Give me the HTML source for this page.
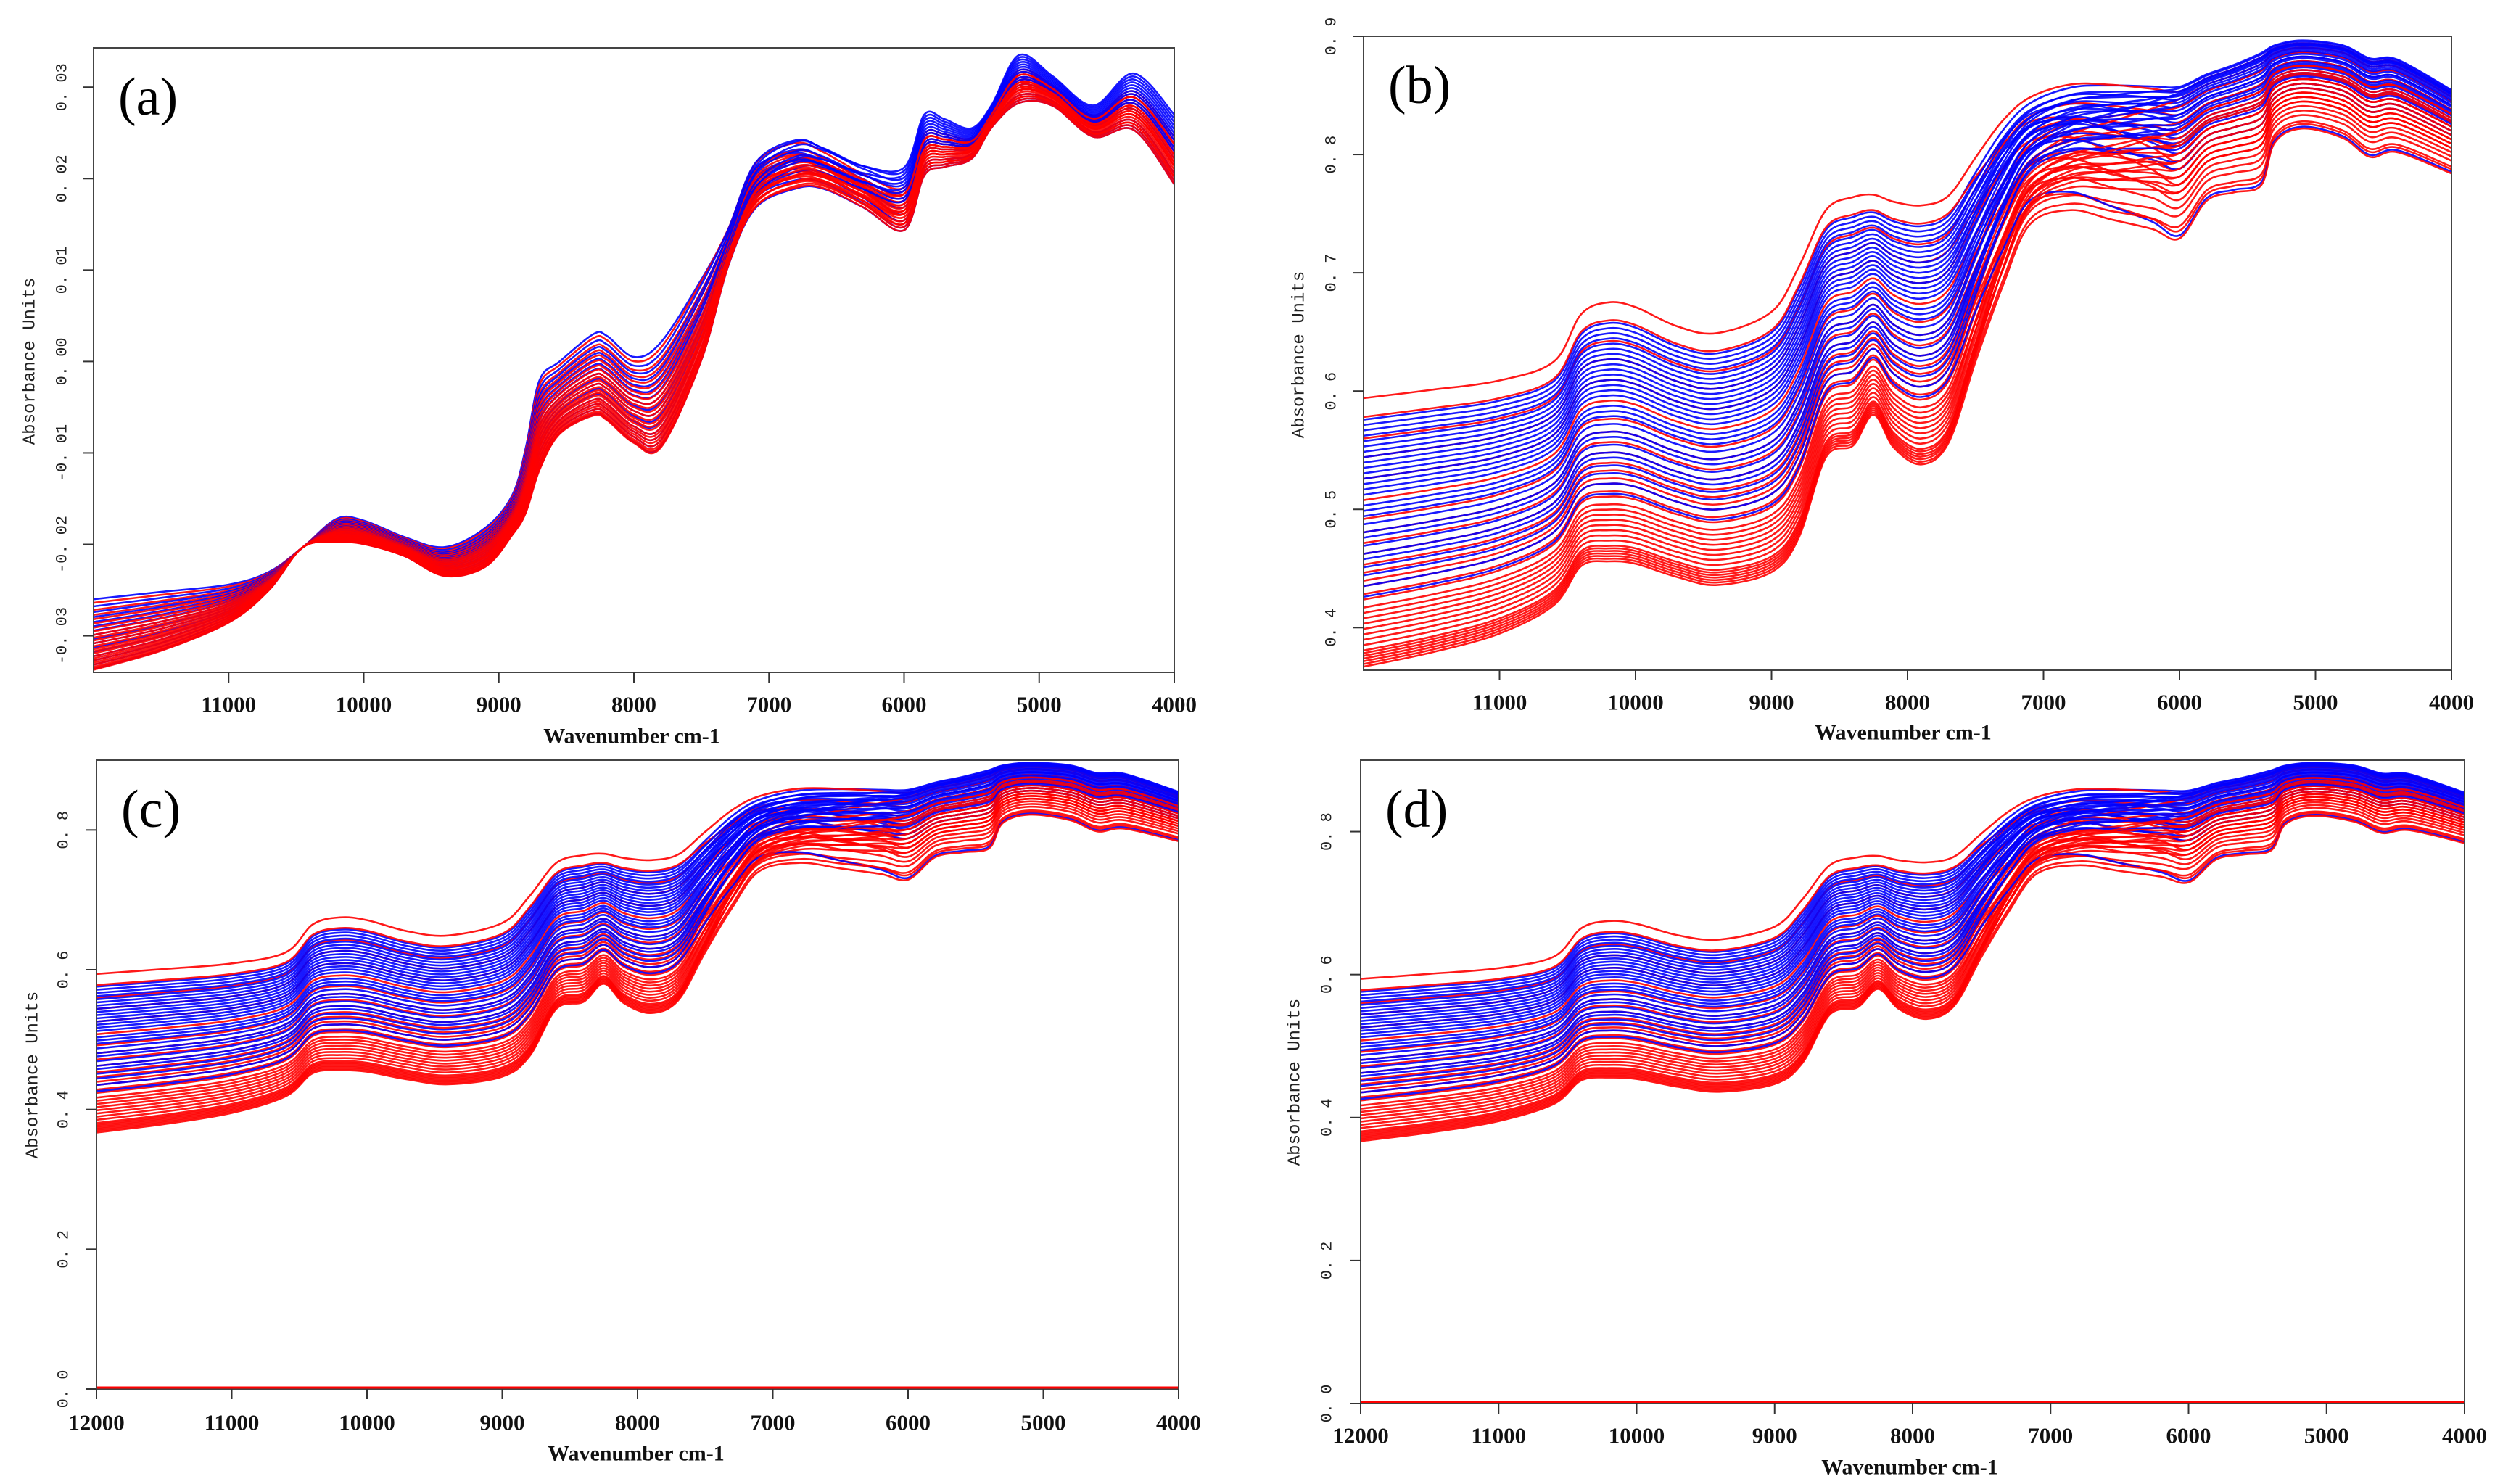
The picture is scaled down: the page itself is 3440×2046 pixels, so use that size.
<!DOCTYPE html>
<html><head><meta charset="utf-8">
<style>
html,body{margin:0;padding:0;background:#fff;}
svg{display:block;}
.yt{font-family:"Liberation Mono",monospace;font-size:22px;fill:#222;}
.ytitle{font-family:"Liberation Mono",monospace;font-size:24px;fill:#222;}
.xt{font-family:"Liberation Serif",serif;font-weight:bold;font-size:31px;fill:#111;}
.xtitle{font-family:"Liberation Serif",serif;font-weight:bold;font-size:30px;fill:#111;}
.plab{font-family:"Liberation Serif",serif;font-size:74px;fill:#000;}
</style></head>
<body>
<svg id="fig" width="3440" height="2046" viewBox="0 0 3440 2046" xmlns="http://www.w3.org/2000/svg"></svg>
<script>
// ---------- data ----------
const waveA = [12000,11500,11000,10700,10450,10200,10000,9700,9400,9100,8900,8800,8700,8550,8300,8200,8000,7800,7500,7300,7100,6800,6600,6300,6000,5850,5700,5500,5350,5150,4900,4600,4300,4000];
const upperA = [-0.026,-0.0252,-0.0244,-0.0230,-0.0203,-0.0172,-0.0174,-0.0192,-0.0203,-0.0182,-0.0146,-0.0094,-0.0021,0.0,0.0030,0.0028,0.0005,0.0021,0.0094,0.015,0.0224,0.0250,0.0240,0.0218,0.0212,0.0270,0.0265,0.0255,0.0281,0.0335,0.0312,0.0280,0.0315,0.0270];
const lowerA = [-0.0338,-0.0317,-0.0286,-0.025,-0.0203,-0.0198,-0.0200,-0.0213,-0.0235,-0.0225,-0.0190,-0.0166,-0.0120,-0.0080,-0.0060,-0.0065,-0.0090,-0.0095,0.0,0.0104,0.0166,0.0187,0.0187,0.0166,0.0140,0.0200,0.0210,0.0220,0.0255,0.0280,0.0278,0.0244,0.0250,0.0190];
const redMixA = [0.95,0.85,0.78,0.72,0.66,0.6,0.55,0.5,0.46,0.42,0.38,0.34,0.3,0.27,0.24,0.2,0.17,0.14,0.11,0.08,0.05,0.03,0.01];
const redMixRightA = [0.7,0.4,0.6,0.3,0.55,0.5,0.2,0.45,0.65,0.35,0.25,0.5,0.15,0.4,0.3,0.6,0.1,0.35,0.2,0.45,0.05,0.3,0.15];
const blueMixA = [1.0,0.9,0.82,0.75,0.68,0.62,0.56,0.5,0.44,0.38,0.32,0.26,0.2,0.14,0.08,0.02];
const blueMixRightA = [0.3,0.85,0.6,0.95,0.4,0.75,1.0,0.55,0.2,0.8,0.65,0.1,0.9,0.5,0.7,0.05];

const waveB = [12000,11500,11000,10600,10400,10200,10000,9700,9400,9000,8800,8600,8400,8250,8100,7900,7700,7500,7300,7100,6800,6500,6200,6000,5800,5600,5400,5300,5100,4800,4600,4400,4000];
const upperB = [0.594,0.601,0.609,0.625,0.665,0.675,0.671,0.655,0.649,0.667,0.705,0.753,0.764,0.766,0.760,0.757,0.765,0.798,0.830,0.850,0.862,0.863,0.861,0.860,0.870,0.878,0.888,0.894,0.898,0.894,0.883,0.882,0.856];
const lowerB = [0.367,0.379,0.395,0.419,0.452,0.456,0.454,0.443,0.436,0.447,0.476,0.544,0.554,0.580,0.552,0.538,0.556,0.625,0.689,0.741,0.753,0.745,0.737,0.729,0.761,0.768,0.774,0.810,0.822,0.814,0.798,0.802,0.784];
const redMixB = [1.0,0.93,0.85,0.78,0.7,0.62,0.55,0.5,0.46,0.42,0.38,0.35,0.32,0.3,0.27,0.25,0.22,0.2,0.18,0.16,0.14,0.12,0.1,0.08,0.06,0.05,0.04,0.03,0.02,0.01,0.0];
const redMixRightB = [0.95,0.5,0.8,0.35,0.7,0.6,0.25,0.85,0.45,0.65,0.3,0.75,0.55,0.2,0.9,0.4,0.6,0.05,0.5,0.7,0.35,0.62,0.45,0.15,0.55,0.3,0.7,0.4,0.08,0.5,0.0];
const blueMixB = [0.92,0.9,0.88,0.86,0.84,0.82,0.8,0.78,0.76,0.74,0.72,0.7,0.68,0.66,0.64,0.6,0.58,0.56,0.53,0.5,0.48,0.45,0.42,0.4,0.37,0.34,0.3,0.26];
const blueMixRightB = [0.98,0.75,0.9,0.55,0.95,0.85,0.65,0.92,0.8,0.6,0.97,0.88,0.7,0.83,0.45,0.93,0.78,0.62,0.9,0.74,0.86,0.5,0.8,0.68,0.94,0.58,0.72,0.02];

const xTicksAB = [11000,10000,9000,8000,7000,6000,5000,4000];
const xTicksCD = [12000,11000,10000,9000,8000,7000,6000,5000,4000];
const yTicksA = [-0.03,-0.02,-0.01,0.00,0.01,0.02,0.03];
const yTickLabelsA = ["-0. 03","-0. 02","-0. 01","0. 00","0. 01","0. 02","0. 03"];
const yTicksB = [0.4,0.5,0.6,0.7,0.8,0.9];
const yTickLabelsB = ["0. 4","0. 5","0. 6","0. 7","0. 8","0. 9"];
const yTicksCD = [0.0,0.2,0.4,0.6,0.8];
const yTickLabelsCD = ["0. 0","0. 2","0. 4","0. 6","0. 8"];

// ---------- drawing ----------
const NS = "http://www.w3.org/2000/svg";
const svg = document.getElementById('fig');
function mk(tag, attrs, parent){
  const e = document.createElementNS(NS, tag);
  for (const k in attrs) e.setAttribute(k, attrs[k]);
  (parent||svg).appendChild(e);
  return e;
}
function smoothPath(pts){
  let d = "M"+pts[0][0].toFixed(1)+","+pts[0][1].toFixed(1);
  for (let i=0;i<pts.length-1;i++){
    const p0=pts[Math.max(0,i-1)], p1=pts[i], p2=pts[i+1], p3=pts[Math.min(pts.length-1,i+2)];
    const c1x=p1[0]+(p2[0]-p0[0])/6, c1y=p1[1]+(p2[1]-p0[1])/6;
    const c2x=p2[0]-(p3[0]-p1[0])/6, c2y=p2[1]-(p3[1]-p1[1])/6;
    d+=" C"+c1x.toFixed(1)+","+c1y.toFixed(1)+" "+c2x.toFixed(1)+","+c2y.toFixed(1)+" "+p2[0].toFixed(1)+","+p2[1].toFixed(1);
  }
  return d;
}

function panel(cfg){
  const g = mk('g',{});
  
  
  const xs = v => cfg.x0 + (12000 - v)/(12000-4000)*(cfg.x1-cfg.x0);
  const ys = v => cfg.y1 - (v - cfg.ymin)/(cfg.ymax-cfg.ymin)*(cfg.y1-cfg.y0);
  const cid = 'clip-'+cfg.id;
  const cp = mk('clipPath',{id:cid},g);
  mk('rect',{x:cfg.x0,y:cfg.y0,width:cfg.x1-cfg.x0,height:cfg.y1-cfg.y0},cp);
  const lines = mk('g',{'clip-path':'url(#'+cid+')'},g);
  
  

  const n = Math.max(cfg.red.length, cfg.blue.length);
  function drawCurve(tL, tR, color, name){
    const pts = cfg.wave.map((w,i)=>{
      // left mix dominates at high wavenumber, right mix from ~7000 downward
      const f = Math.min(1, Math.max(0, (7600 - w)/1600));
      const t = tL*(1-f) + tR*f;
      return [xs(w), ys(cfg.lo[i] + t*(cfg.hi[i]-cfg.lo[i]))];
    });
    const p = mk('path',{d:smoothPath(pts),fill:'none',stroke:color,'stroke-width':2.6,'stroke-opacity':0.9},lines);
    
    
  }
  for (let i=0;i<n;i++){
    if (i<cfg.blue.length) drawCurve(cfg.blue[i], cfg.blueR[i], '#0000ff', 'blue-spectrum');
    if (i<cfg.red.length) drawCurve(cfg.red[i], cfg.redR[i], '#ff0000', 'red-spectrum');
  }
  const box = mk('rect',{x:cfg.x0,y:cfg.y0,width:cfg.x1-cfg.x0,height:cfg.y1-cfg.y0,fill:'none',stroke:'#444','stroke-width':2},g);
  
  
  if (cfg.zeroLine){
    const z = mk('line',{x1:cfg.x0+1,x2:cfg.x1-1,y1:ys(0)-2,y2:ys(0)-2,stroke:'#ff0000','stroke-width':3},g);
    
    
  }

  cfg.xticks.forEach(v=>{
    const x = xs(v);
    mk('line',{x1:x,x2:x,y1:cfg.y1,y2:cfg.y1+14,stroke:'#333','stroke-width':2},g);
    const t = mk('text',{x:x,y:cfg.xtY,'text-anchor':'middle','dominant-baseline':'central',class:'xt'},g);
    
    
    t.textContent = v;
  });
  cfg.yticks.forEach((v,i)=>{
    const y = ys(v);
    mk('line',{x1:cfg.x0-14,x2:cfg.x0,y1:y,y2:y,stroke:'#333','stroke-width':2},g);
    const t = mk('text',{x:0,y:0,transform:'translate('+cfg.ytX+','+y+') rotate(-90)','text-anchor':'middle','dominant-baseline':'central',class:'yt'},g);
    
    
    t.textContent = cfg.ylabels[i];
  });
  const xt = mk('text',{x:cfg.xTitleX,y:cfg.xTitleY,'text-anchor':'middle','dominant-baseline':'central',class:'xtitle'},g);
  
  
  xt.textContent = 'Wavenumber cm-1';
  const yt = mk('text',{x:0,y:0,transform:'translate('+cfg.yTitleX+','+cfg.yTitleY+') rotate(-90)','text-anchor':'middle','dominant-baseline':'central',class:'ytitle'},g);
  
  
  yt.textContent = 'Absorbance Units';
  const pl = mk('text',{x:cfg.x0+34,y:cfg.y0+68,'dominant-baseline':'central',class:'plab'},g);
  
  
  pl.textContent = '('+cfg.id+')';
}

panel({id:'a',x0:129,x1:1619,y0:66,y1:927,ymin:-0.0340,ymax:0.0343,
  wave:waveA,hi:upperA,lo:lowerA,red:redMixA,redR:redMixRightA,blue:blueMixA,blueR:blueMixRightA,
  xticks:xTicksAB,yticks:yTicksA,ylabels:yTickLabelsA,
  xtY:971,ytX:86,xTitleX:871,xTitleY:1015,yTitleX:42,yTitleY:498});
panel({id:'b',x0:1880,x1:3380,y0:50,y1:924,ymin:0.364,ymax:0.9,
  wave:waveB,hi:upperB,lo:lowerB,red:redMixB,redR:redMixRightB,blue:blueMixB,blueR:blueMixRightB,
  xticks:xTicksAB,yticks:yTicksB,ylabels:yTickLabelsB,
  xtY:968,ytX:1836,xTitleX:2624,xTitleY:1010,yTitleX:1792,yTitleY:489});
panel({id:'c',x0:133,x1:1625,y0:1048,y1:1915,ymin:0,ymax:0.9,zeroLine:true,
  wave:waveB,hi:upperB,lo:lowerB,red:redMixB,redR:redMixRightB,blue:blueMixB,blueR:blueMixRightB,
  xticks:xTicksCD,yticks:yTicksCD,ylabels:yTickLabelsCD,
  xtY:1961,ytX:88,xTitleX:877,xTitleY:2004,yTitleX:46,yTitleY:1482});
panel({id:'d',x0:1876,x1:3398,y0:1048,y1:1935,ymin:0,ymax:0.9,zeroLine:true,
  wave:waveB,hi:upperB,lo:lowerB,red:redMixB,redR:redMixRightB,blue:blueMixB,blueR:blueMixRightB,
  xticks:xTicksCD,yticks:yTicksCD,ylabels:yTickLabelsCD,
  xtY:1979,ytX:1830,xTitleX:2633,xTitleY:2023,yTitleX:1786,yTitleY:1492});
</script>
</body></html>
